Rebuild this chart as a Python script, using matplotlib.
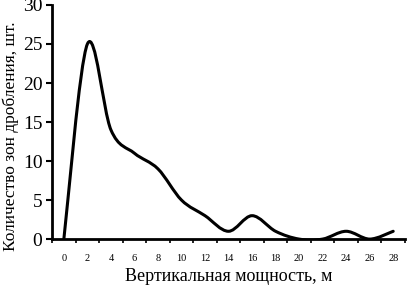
import numpy as np
import matplotlib.pyplot as plt
from matplotlib.path import Path
from matplotlib.patches import PathPatch

plt.rcParams['font.family'] = ['Liberation Serif', 'DejaVu Serif']

# данные
thickness = ['0', '2', '4', '6', '8', '10', '12', '14', '16', '18', '20', '22', '24', '26', '28']
zone_count = [0, 25, 14, 11, 9, 5, 3, 1, 3, 1, 0, 0, 1, 0, 1]
y_ticks = [0, 5, 10, 15, 20, 25, 30]


def smooth_path(xs, ys):
    # сглаженная линия как в Excel (кубические Безье через точки)
    pts = np.column_stack([xs, ys]).astype(float)
    n = len(pts)
    verts = [pts[0]]
    codes = [Path.MOVETO]
    for i in range(n - 1):
        p0 = pts[i - 1] if i > 0 else pts[i]
        p1 = pts[i]
        p2 = pts[i + 1]
        p3 = pts[i + 2] if i + 2 < n else pts[i + 1]
        c1 = p1 + (p2 - p0) / 6
        c2 = p2 - (p3 - p1) / 6
        verts += [c1, c2, p2]
        codes += [Path.CURVE4] * 3
    return Path(verts, codes)


fig = plt.figure(figsize=(4.07, 2.93), dpi=100)
ax = fig.add_axes([0.128, 0.184, 0.867, 0.799])

x = np.arange(len(thickness))
ax.add_patch(PathPatch(smooth_path(x, zone_count), facecolor='none',
                       edgecolor='black', lw=2.2, capstyle='round', joinstyle='round'))

ax.set_xlim(-0.5, len(thickness) - 0.5)
ax.set_ylim(0, 30)

ax.set_yticks(y_ticks)
ax.set_yticklabels([str(v) for v in y_ticks], fontsize=14)
ax.tick_params(axis='y', direction='out', length=4, width=1.5, pad=3)

ax.set_xticks(x)
ax.set_xticklabels(thickness, fontsize=7.5)
ax.set_xticks(np.arange(-0.5, len(thickness), 1), minor=True)
ax.tick_params(axis='x', which='major', length=0, pad=11)
ax.tick_params(axis='x', which='minor', direction='out', length=3, width=1.2)

for s in ['top', 'right']:
    ax.spines[s].set_visible(False)
ax.spines['left'].set_linewidth(2)
ax.spines['bottom'].set_linewidth(2)

ax.set_xlabel('Вертикальная мощность, м', fontsize=13, labelpad=3)
ax.set_ylabel('Количество зон дробления, шт.', fontsize=12.5, labelpad=3)
ax.yaxis.set_label_coords(-0.095, 0.44)

fig.savefig('out.png', dpi=100)
